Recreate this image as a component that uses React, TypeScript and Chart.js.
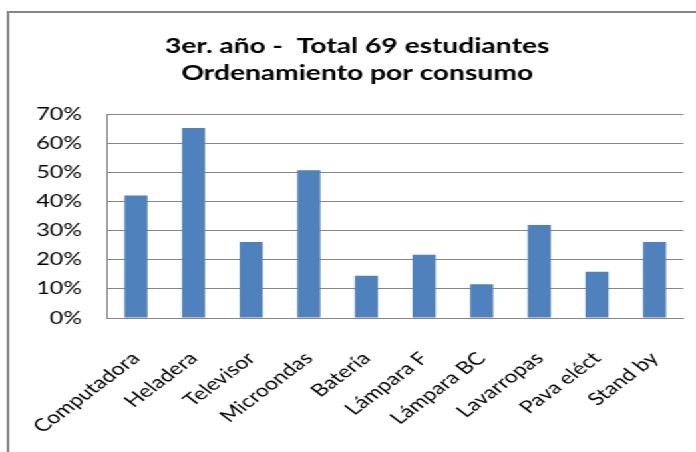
import React, { useEffect, useRef } from "react";
import { Chart, registerables } from "chart.js";

Chart.register(...registerables);

const categories = [
  "Computadora",
  "Heladera",
  "Televisor",
  "Microondas",
  "Batería",
  "Lámpara F",
  "Lámpara BC",
  "Lavarropas",
  "Pava eléct",
  "Stand by",
];
const percentValues = [42.0, 65.2, 26.1, 50.7, 14.5, 21.7, 11.6, 31.9, 15.9, 26.1];
const titleLines = ["3er. año -  Total 69 estudiantes", "Ordenamiento por consumo"];
const yMax = 70;
const yStep = 10;

const STRETCH = 1.3308;
const W = 523;
const H = 452;
const FONT = "Lato, 'Open Sans', sans-serif";
const GRAY = "#868686";

const framePlugin = {
  id: "frameAndTitle",
  beforeDraw(chart: any) {
    const ctx = chart.ctx;
    ctx.save();
    ctx.fillStyle = "#ffffff";
    ctx.fillRect(0, 0, chart.width, chart.height);
    ctx.strokeStyle = GRAY;
    ctx.lineWidth = 2;
    ctx.beginPath();
    ctx.moveTo(6, chart.height);
    ctx.lineTo(6, 12);
    ctx.lineTo(chart.width, 12);
    ctx.stroke();
    ctx.fillStyle = "#000000";
    ctx.font = `bold 21.2px ${FONT}`;
    ctx.textAlign = "center";
    ctx.textBaseline = "alphabetic";
    ctx.fillText(titleLines[0], 268.4, 53);
    ctx.fillText(titleLines[1], 268.4, 80);
    ctx.restore();
  },
};

export default function App() {
  const ref = useRef<HTMLCanvasElement | null>(null);
  useEffect(() => {
    if (!ref.current) return;
    const chart = new Chart(ref.current, {
      type: "bar",
      data: {
        labels: categories,
        datasets: [
          {
            data: percentValues,
            backgroundColor: "#4F81BD",
            borderWidth: 0,
            barPercentage: 0.4,
            categoryPercentage: 1,
          },
        ],
      },
      options: {
        animation: false,
        responsive: false,
        devicePixelRatio: 1,
        layout: { padding: { top: 114, right: 9.5, bottom: 0, left: 0 } },
        plugins: {
          legend: { display: false },
          title: { display: false },
          tooltip: { enabled: false },
        },
        scales: {
          x: {
            grid: { display: false, drawTicks: false },
            border: { display: true, color: GRAY, width: 1 },
            ticks: {
              color: "#000",
              font: { family: FONT, size: 17.5 },
              minRotation: 45,
              maxRotation: 45,
              autoSkip: false,
              padding: 30,
            },
            afterFit: (scale: any) => {
              scale.height = 134;
              scale.paddingLeft = 0;
              scale.paddingRight = 0;
            },
          },
          y: {
            min: 0,
            max: yMax,
            grid: { color: GRAY, lineWidth: 1, drawTicks: false },
            border: { display: true, color: GRAY, width: 1 },
            ticks: {
              stepSize: yStep,
              color: "#000",
              font: { family: FONT, size: 17.5 },
              padding: 19,
              callback: (v: any) => `${v}%`,
            },
            afterFit: (scale: any) => {
              scale.width = 80.5;
            },
          },
        },
      },
      plugins: [framePlugin],
    });
    return () => chart.destroy();
  }, []);
  return (
    <div
      style={{
        position: "fixed",
        left: 0,
        top: 0,
        width: W,
        height: H,
        transform: `scaleX(${STRETCH})`,
        transformOrigin: "0 0",
        background: "#fff",
      }}
    >
      <canvas ref={ref} width={W} height={H} />
    </div>
  );
}
